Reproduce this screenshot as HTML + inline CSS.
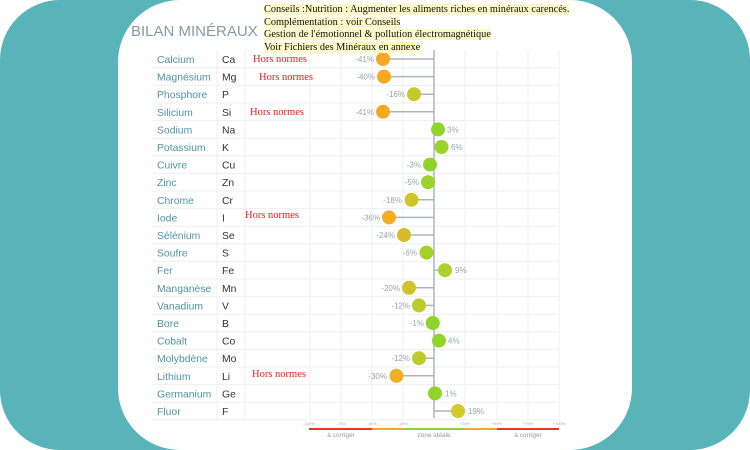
<!DOCTYPE html>
<html><head><meta charset="utf-8"><style>
body{margin:0;width:750px;height:450px;overflow:hidden;background:#fff;font-family:"Liberation Sans",sans-serif}
.teal{position:absolute;left:0;top:0;width:750px;height:450px;background:#58b4b9;border-radius:60px}
.card{position:absolute;left:118px;top:0;width:514px;height:450px;background:#fff;border-radius:62px}
.hdr{position:absolute;left:264px;top:4px;font-family:"Liberation Serif",serif;font-size:10.3px;line-height:12.6px;color:#111}
.hdr span{background:#fdf8c8}
.hn{position:absolute;font-family:"Liberation Serif",serif;font-size:10.5px;color:#f01818}
</style></head><body>
<div class="teal"></div><div class="card"></div>
<svg style="position:absolute;left:0;top:0" width="750" height="450" font-family="Liberation Sans, sans-serif">
<text x="131" y="36" font-size="15" fill="#8a98a3">BILAN MINÉRAUX</text>
<g stroke="#efefef" stroke-width="1">
<line x1="217" y1="50" x2="217" y2="420"/><line x1="245" y1="50" x2="245" y2="420"/><line x1="310" y1="50" x2="310" y2="420"/><line x1="341" y1="50" x2="341" y2="420"/><line x1="372" y1="50" x2="372" y2="420"/><line x1="403" y1="50" x2="403" y2="420"/><line x1="465" y1="50" x2="465" y2="420"/><line x1="497" y1="50" x2="497" y2="420"/><line x1="528" y1="50" x2="528" y2="420"/><line x1="559" y1="50" x2="559" y2="420"/>
<line x1="152" y1="67.8" x2="559" y2="67.8"/><line x1="152" y1="85.4" x2="559" y2="85.4"/><line x1="152" y1="103" x2="559" y2="103"/><line x1="152" y1="120.6" x2="559" y2="120.6"/><line x1="152" y1="138.2" x2="559" y2="138.2"/><line x1="152" y1="155.8" x2="559" y2="155.8"/><line x1="152" y1="173.4" x2="559" y2="173.4"/><line x1="152" y1="191" x2="559" y2="191"/><line x1="152" y1="208.6" x2="559" y2="208.6"/><line x1="152" y1="226.2" x2="559" y2="226.2"/><line x1="152" y1="243.8" x2="559" y2="243.8"/><line x1="152" y1="261.4" x2="559" y2="261.4"/><line x1="152" y1="279" x2="559" y2="279"/><line x1="152" y1="296.6" x2="559" y2="296.6"/><line x1="152" y1="314.2" x2="559" y2="314.2"/><line x1="152" y1="331.8" x2="559" y2="331.8"/><line x1="152" y1="349.4" x2="559" y2="349.4"/><line x1="152" y1="367" x2="559" y2="367"/><line x1="152" y1="384.6" x2="559" y2="384.6"/><line x1="152" y1="402.2" x2="559" y2="402.2"/><line x1="152" y1="419.8" x2="559" y2="419.8"/>
</g>
<line x1="434" y1="50" x2="434" y2="418" stroke="#a9b6c0" stroke-width="1.5"/>
<g stroke="#a9b6c0" stroke-width="1.5">
<line x1="383" y1="59" x2="434" y2="59"/><line x1="384" y1="76.6" x2="434" y2="76.6"/><line x1="414" y1="94.2" x2="434" y2="94.2"/><line x1="383" y1="111.8" x2="434" y2="111.8"/><line x1="434" y1="129.4" x2="438" y2="129.4"/><line x1="434" y1="147" x2="441" y2="147"/><line x1="430" y1="164.6" x2="434" y2="164.6"/><line x1="428" y1="182.2" x2="434" y2="182.2"/><line x1="411" y1="199.8" x2="434" y2="199.8"/><line x1="389" y1="217.4" x2="434" y2="217.4"/><line x1="404" y1="235" x2="434" y2="235"/><line x1="426" y1="252.6" x2="434" y2="252.6"/><line x1="434" y1="270.2" x2="445" y2="270.2"/><line x1="409" y1="287.8" x2="434" y2="287.8"/><line x1="419" y1="305.4" x2="434" y2="305.4"/><line x1="433" y1="323" x2="434" y2="323"/><line x1="434" y1="340.6" x2="439" y2="340.6"/><line x1="419" y1="358.2" x2="434" y2="358.2"/><line x1="396" y1="375.8" x2="434" y2="375.8"/><line x1="434" y1="393.4" x2="435" y2="393.4"/><line x1="434" y1="411" x2="458" y2="411"/>
</g>
<g font-size="10.4" fill="#4f94a8">
<text x="157" y="63">Calcium</text><text x="157" y="80.6">Magnésium</text><text x="157" y="98.2">Phosphore</text><text x="157" y="115.8">Silicium</text><text x="157" y="133.4">Sodium</text><text x="157" y="151">Potassium</text><text x="157" y="168.6">Cuivre</text><text x="157" y="186.2">Zinc</text><text x="157" y="203.8">Chrome</text><text x="157" y="221.4">Iode</text><text x="157" y="239">Sélénium</text><text x="157" y="256.6">Soufre</text><text x="157" y="274.2">Fer</text><text x="157" y="291.8">Manganèse</text><text x="157" y="309.4">Vanadium</text><text x="157" y="327">Bore</text><text x="157" y="344.6">Cobalt</text><text x="157" y="362.2">Molybdène</text><text x="157" y="379.8">Lithium</text><text x="157" y="397.4">Germanium</text><text x="157" y="415">Fluor</text>
</g>
<g font-size="10.4" fill="#333">
<text x="222" y="63">Ca</text><text x="222" y="80.6">Mg</text><text x="222" y="98.2">P</text><text x="222" y="115.8">Si</text><text x="222" y="133.4">Na</text><text x="222" y="151">K</text><text x="222" y="168.6">Cu</text><text x="222" y="186.2">Zn</text><text x="222" y="203.8">Cr</text><text x="222" y="221.4">I</text><text x="222" y="239">Se</text><text x="222" y="256.6">S</text><text x="222" y="274.2">Fe</text><text x="222" y="291.8">Mn</text><text x="222" y="309.4">V</text><text x="222" y="327">B</text><text x="222" y="344.6">Co</text><text x="222" y="362.2">Mo</text><text x="222" y="379.8">Li</text><text x="222" y="397.4">Ge</text><text x="222" y="415">F</text>
</g>
<g>
<circle cx="383" cy="59" r="7" fill="#f6a823"/><circle cx="384" cy="76.6" r="7" fill="#f6a823"/><circle cx="414" cy="94.2" r="7" fill="#c6c92a"/><circle cx="383" cy="111.8" r="7" fill="#f6a823"/><circle cx="438" cy="129.4" r="7" fill="#8fd42b"/><circle cx="441.5" cy="147" r="7" fill="#99d22b"/><circle cx="430" cy="164.6" r="7" fill="#8fd42b"/><circle cx="428" cy="182.2" r="7" fill="#9cd22b"/><circle cx="411.5" cy="199.8" r="7" fill="#cfc62a"/><circle cx="389" cy="217.4" r="7" fill="#f5ac23"/><circle cx="404" cy="235" r="7" fill="#d6bc2a"/><circle cx="426.5" cy="252.6" r="7" fill="#a3d12b"/><circle cx="445" cy="270.2" r="7" fill="#aed02b"/><circle cx="409" cy="287.8" r="7" fill="#d2c12a"/><circle cx="419" cy="305.4" r="7" fill="#bdcc2a"/><circle cx="432.8" cy="323" r="7" fill="#8fd42b"/><circle cx="439" cy="340.6" r="7" fill="#93d32b"/><circle cx="419" cy="358.2" r="7" fill="#bdcc2a"/><circle cx="396.5" cy="375.8" r="7" fill="#f0b023"/><circle cx="435" cy="393.4" r="7" fill="#8fd42b"/><circle cx="458" cy="411" r="7" fill="#d4c82a"/>
</g>
<g font-size="8" fill="#9aa4ac">
<g text-anchor="end">
<text x="374" y="62">-41%</text><text x="375" y="79.6">-40%</text><text x="405" y="97.2">-16%</text><text x="374" y="114.8">-41%</text><text x="421" y="167.6">-3%</text><text x="419" y="185.2">-5%</text><text x="402" y="202.8">-18%</text><text x="380" y="220.4">-36%</text><text x="395" y="238">-24%</text><text x="417" y="255.6">-6%</text><text x="400" y="290.8">-20%</text><text x="410" y="308.4">-12%</text><text x="424" y="326">-1%</text><text x="410" y="361.2">-12%</text><text x="387" y="378.8">-30%</text>
</g>
<text x="447" y="132.4">3%</text><text x="451" y="150">6%</text><text x="455" y="273.2">9%</text><text x="448" y="343.6">4%</text><text x="445" y="396.4">1%</text><text x="468" y="414">19%</text>
</g>
<g font-size="4" fill="#aaa" text-anchor="middle">
<text x="309" y="425">-100%</text><text x="341" y="425">-75%</text><text x="372" y="425">-50%</text><text x="403" y="425">-25%</text><text x="465" y="425">+25%</text><text x="497" y="425">+50%</text><text x="528" y="425">+75%</text><text x="559" y="425">+100%</text>
</g>
<rect x="309" y="428" width="63" height="2" fill="#f0312a"/><rect x="372" y="428" width="31" height="2" fill="#f7a823"/><rect x="403" y="428" width="62" height="2" fill="#8fd42b"/><rect x="465" y="428" width="32" height="2" fill="#f7a823"/><rect x="497" y="428" width="62" height="2" fill="#f0312a"/>
<g font-size="6.5" fill="#999" text-anchor="middle">
<text x="341" y="437">à corriger</text><text x="434" y="437">zone idéale</text><text x="528" y="437">à corriger</text>
</g>
</svg>
<div class="hdr"><span>Conseils :Nutrition : Augmenter les aliments riches en minéraux carencés.</span><br><span>Complémentation : voir Conseils</span><br><span>Gestion de l'émotionnel &amp; pollution électromagnétique</span><br><span>Voir Fichiers des Minéraux en annexe</span></div>
<div class="hn" style="left:253px;top:54px">Hors normes</div>
<div class="hn" style="left:259px;top:72px">Hors normes</div>
<div class="hn" style="left:250px;top:107px">Hors normes</div>
<div class="hn" style="left:245px;top:210px">Hors normes</div>
<div class="hn" style="left:252px;top:369px">Hors normes</div>
</body></html>
